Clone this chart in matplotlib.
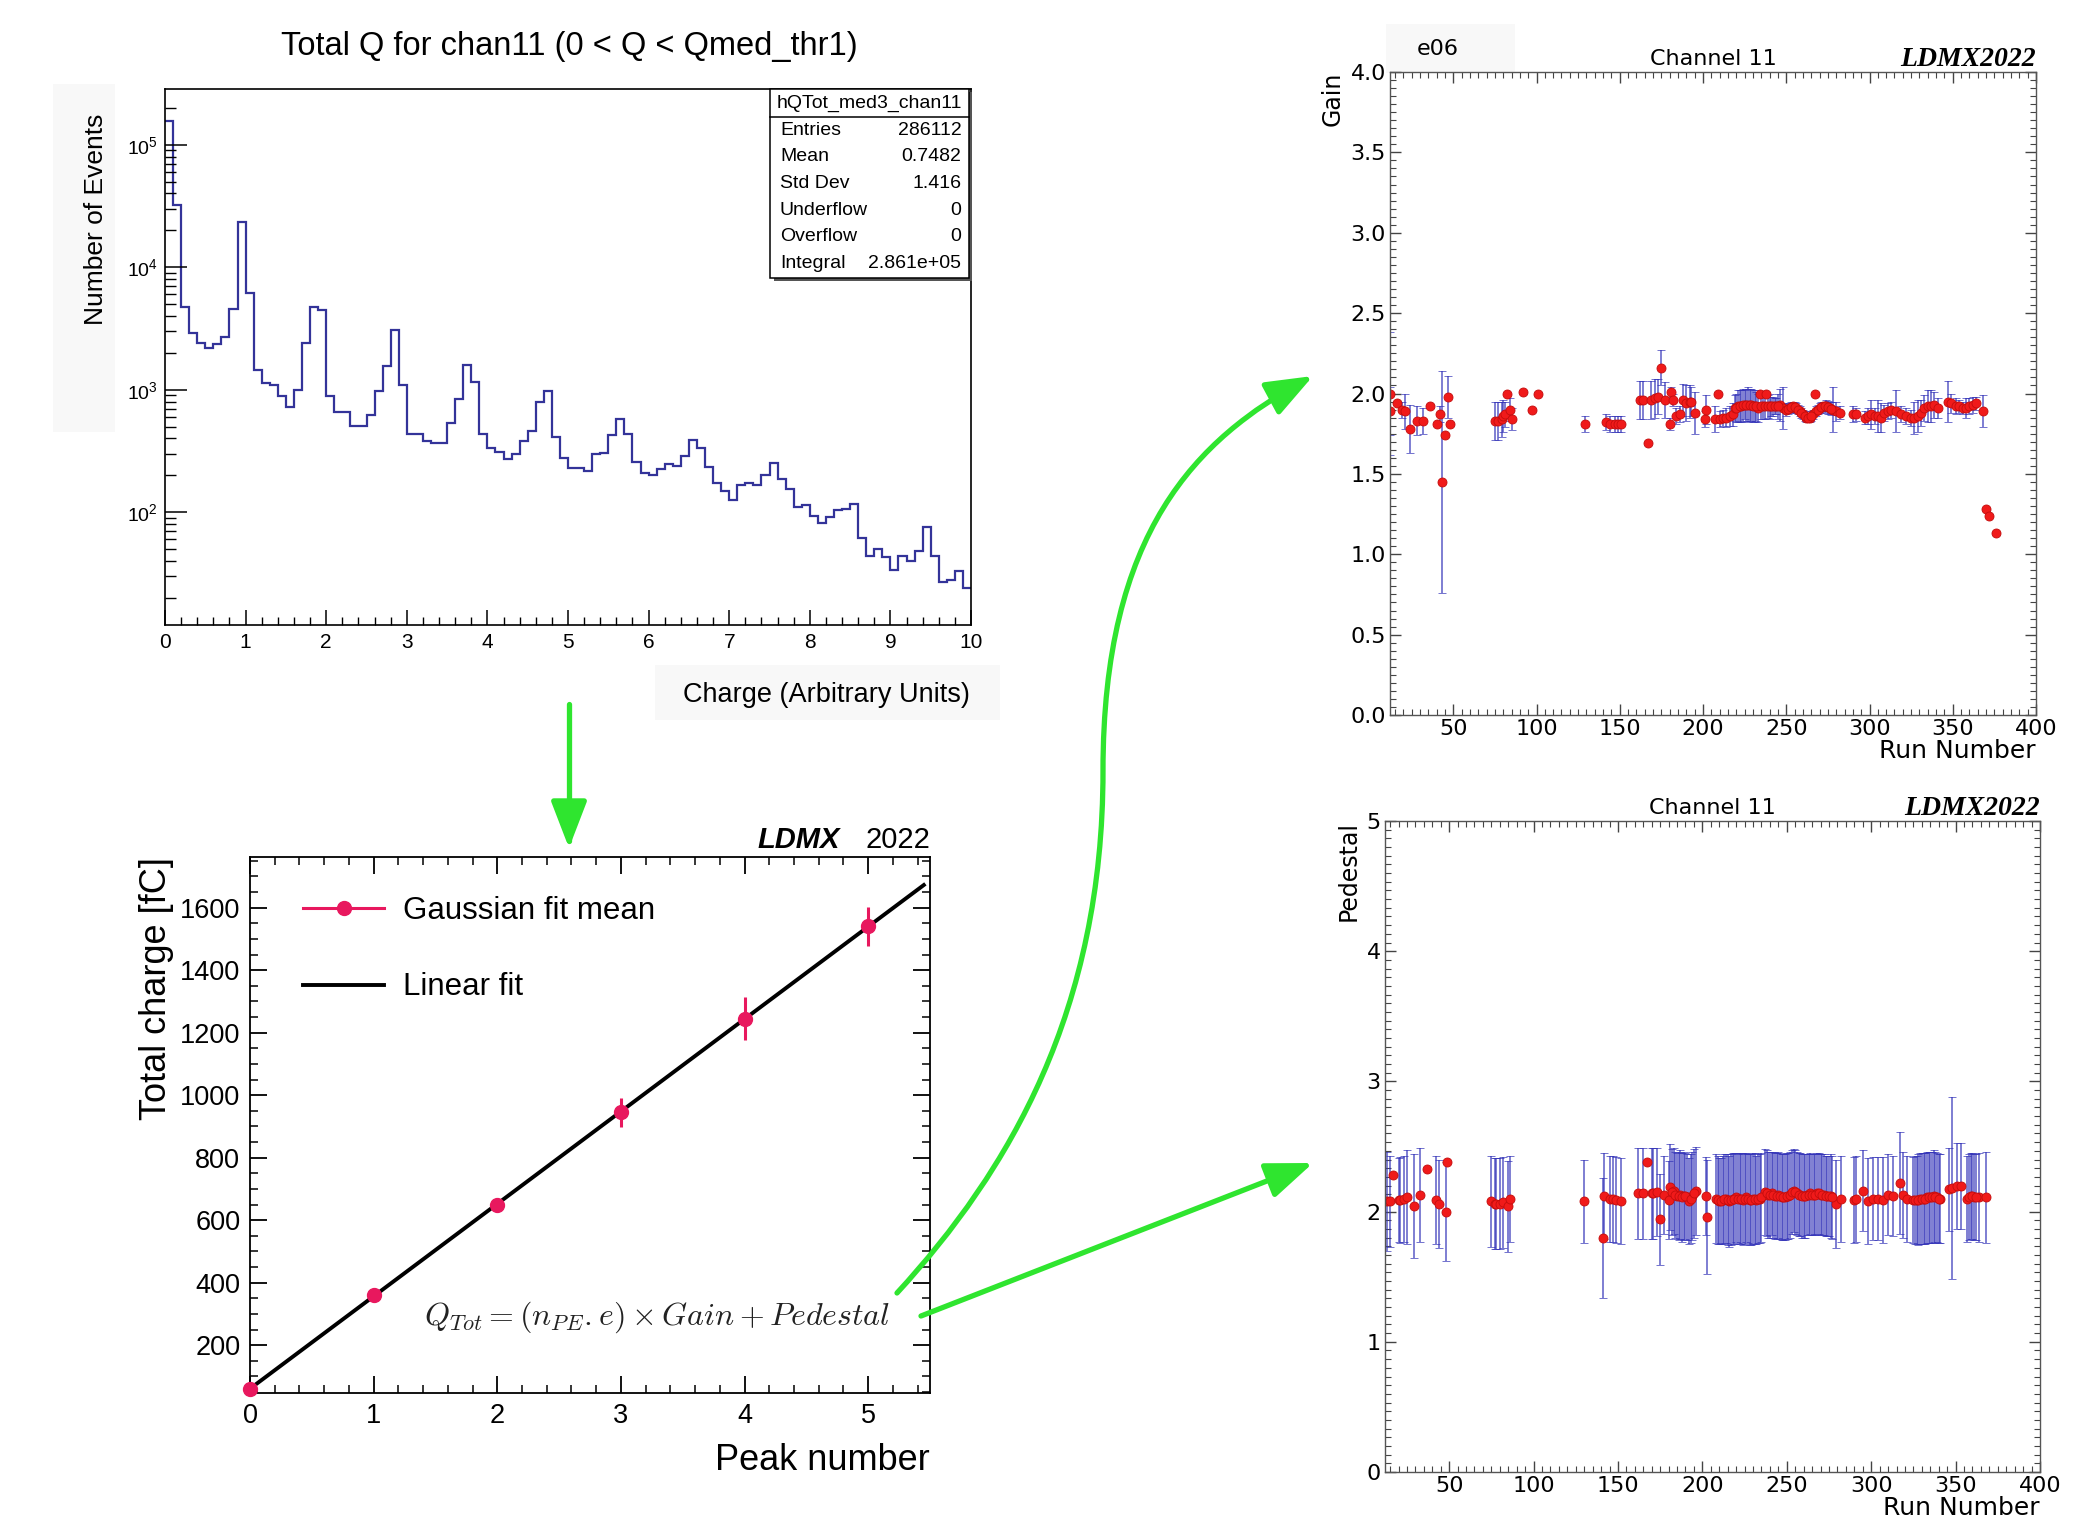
import numpy as np
import matplotlib
matplotlib.use("Agg")
import matplotlib.pyplot as plt
from matplotlib.patches import Rectangle, FancyArrowPatch
from matplotlib.path import Path
from matplotlib.lines import Line2D
from matplotlib.ticker import (MultipleLocator, AutoMinorLocator, LogLocator,
                               NullFormatter, FormatStrFormatter)

plt.rcParams["font.family"] = ["Liberation Sans", "DejaVu Sans"]
plt.rcParams["mathtext.fontset"] = "custom"
plt.rcParams["mathtext.rm"] = "Liberation Sans"
plt.rcParams["mathtext.it"] = "Liberation Sans:italic"
plt.rcParams["mathtext.bf"] = "Liberation Sans:bold"

W, H = 2084, 1520
GREEN = "#2fe52f"
PINK = "#e8185e"
HBLUE = "#333399"
RED = "#f01a1a"
EBLUE = (0.2, 0.2, 0.72, 0.8)

# ---- histogram of total charge, 100 bins on [0, 10]
hist_range = (0, 10)
hist_counts = [
    1.55e5, 3.25e4, 4700, 2900, 2400, 2200, 2350, 2700, 4600, 23600,
    6200, 1440, 1140, 1100, 890, 720, 1000, 2400, 4700, 4500,
    890, 660, 655, 505, 505, 620, 970, 1550, 3100, 1100,
    437, 437, 378, 370, 364, 535, 835, 1580, 1150, 437,
    333, 312, 270, 296, 378, 460, 790, 980, 410, 275,
    230, 230, 218, 297, 306, 424, 580, 437, 256, 210,
    203, 226, 248, 240, 290, 390, 333, 235, 172, 148,
    125, 167, 172, 166, 200, 250, 188, 154, 110, 115,
    93, 82, 92, 105, 106, 117, 62, 44, 50, 43,
    34, 44, 40, 48, 76, 44, 27, 28, 33, 24,
]
stats_name = "hQTot_med3_chan11"
stats_labels = ["Entries", "Mean", "Std Dev", "Underflow", "Overflow", "Integral"]
stats_values = ["286112", "0.7482", "1.416", "0", "0", "2.861e+05"]

# ---- gaussian fit means per photo-electron peak
peak_number = [0, 1, 2, 3, 4, 5]
peak_charge = [60, 360, 650, 945, 1245, 1540]
peak_err = [8, 12, 15, 47, 70, 62]

# ---- gain vs run number
gain_run = [12, 12, 16, 19, 21, 24, 28, 32, 36, 40, 42, 43, 45, 47, 48,
            75, 77, 79, 80, 81, 82, 84, 85, 92, 97, 101,
            129, 142, 144, 147, 149, 151,
            162, 164, 167, 169, 171, 173, 175, 177, 180, 181, 182, 184, 186,
            188, 190, 192, 193, 195, 201, 202,
            207, 209, 210, 212, 214, 216, 218, 219, 221, 223, 225, 227, 229,
            231, 233, 234, 236, 238, 240, 242, 244, 246, 248, 250, 252, 254,
            256, 258, 260, 262, 264, 266, 267, 268, 270, 272, 274, 276, 278,
            280, 282, 290, 292, 297, 299, 301, 303, 305, 307, 309, 311, 313,
            316, 319, 322, 325, 327, 329, 331, 333, 335, 337, 339, 341, 347,
            349, 352, 354, 356, 358, 360, 362, 364, 368, 370, 372, 376]
gain_val = [2.00, 1.89, 1.94, 1.90, 1.89, 1.78, 1.83, 1.83, 1.92, 1.81, 1.87, 1.45, 1.74, 1.98, 1.81,
            1.83, 1.83, 1.84, 1.86, 1.87, 2.00, 1.90, 1.84, 2.01, 1.90, 2.00,
            1.81, 1.82, 1.81, 1.81, 1.81, 1.81,
            1.96, 1.96, 1.69, 1.96, 1.97, 1.98, 2.16, 1.96, 1.81, 2.01, 1.96, 1.86, 1.87,
            1.96, 1.94, 1.95, 1.95, 1.88, 1.84, 1.90,
            1.84, 2.00, 1.84, 1.85, 1.85, 1.86, 1.87, 1.91, 1.92, 1.92, 1.93, 1.93, 1.93,
            1.92, 1.91, 2.00, 1.92, 2.00, 1.92, 1.92, 1.92, 1.93, 1.91, 1.90, 1.91, 1.92,
            1.91, 1.89, 1.87, 1.85, 1.85, 1.87, 2.00, 1.89, 1.91, 1.92, 1.92, 1.91, 1.90,
            1.89, 1.88, 1.87, 1.87, 1.85, 1.86, 1.87, 1.86, 1.86, 1.85, 1.88, 1.89, 1.90,
            1.89, 1.87, 1.86, 1.85, 1.85, 1.86, 1.88, 1.91, 1.92, 1.92, 1.93, 1.91, 1.95,
            1.94, 1.92, 1.92, 1.91, 1.91, 1.92, 1.93, 1.94, 1.89, 1.28, 1.24, 1.13]
gain_err = [0.38, 0.15, 0.01, 0.05, 0.11, 0.15, 0.09, 0.08, 0.01, 0.01, 0.05, 0.69, 0.01, 0.13, 0.01,
            0.12, 0.12, 0.11, 0.10, 0.08, 0.01, 0.07, 0.07, 0.01, 0.01, 0.01,
            0.05, 0.05, 0.05, 0.05, 0.05, 0.05,
            0.12, 0.12, 0.01, 0.12, 0.12, 0.11, 0.11, 0.11, 0.04, 0.03, 0.04, 0.05, 0.05,
            0.10, 0.11, 0.10, 0.09, 0.13, 0.05, 0.09,
            0.08, 0.01, 0.05, 0.05, 0.06, 0.06, 0.07, 0.08, 0.10, 0.10, 0.09, 0.11, 0.10,
            0.10, 0.09, 0.01, 0.08, 0.01, 0.08, 0.06, 0.05, 0.10, 0.13, 0.04, 0.03, 0.03,
            0.03, 0.03, 0.03, 0.03, 0.03, 0.03, 0.01, 0.03, 0.03, 0.03, 0.04, 0.04, 0.14,
            0.06, 0.04, 0.05, 0.04, 0.04, 0.05, 0.09, 0.05, 0.10, 0.09, 0.05, 0.05, 0.05,
            0.13, 0.05, 0.05, 0.05, 0.10, 0.10, 0.08, 0.08, 0.10, 0.10, 0.08, 0.06, 0.13,
            0.06, 0.05, 0.04, 0.04, 0.06, 0.05, 0.05, 0.04, 0.10, 0.01, 0.01, 0.01]
# runs in the densely sampled stretches, in between the ones above
gain_run_fill = [220, 222, 224, 226, 228, 230, 232, 235, 237, 239, 241, 243, 245,
                 251, 253, 255, 257, 259, 261, 263, 265, 269, 271, 273, 275, 277]
gain_val_fill = [1.91, 1.92, 1.93, 1.93, 1.93, 1.92, 1.92, 1.92, 1.92, 1.92, 1.92, 1.92, 1.92,
                 1.905, 1.915, 1.915, 1.90, 1.88, 1.86, 1.85, 1.86, 1.90, 1.915, 1.92, 1.915, 1.905]
gain_err_fill = [0.09, 0.10, 0.10, 0.10, 0.10, 0.10, 0.09, 0.08, 0.08, 0.07, 0.06, 0.05, 0.08,
                 0.03, 0.03, 0.03, 0.03, 0.03, 0.03, 0.03, 0.03, 0.03, 0.03, 0.03, 0.04, 0.04]

# ---- pedestal vs run number
ped_run = [13, 15, 17, 20, 21, 23, 25, 29, 33, 37, 42, 44, 48, 49,
           75, 77, 78, 80, 82, 85, 86,
           130, 141, 142, 145, 147, 149, 152,
           162, 165, 167, 170, 171, 173, 175, 177, 180, 181, 183, 185, 187, 189,
           191, 192, 194, 196, 202, 203,
           208, 210, 212, 214, 216, 218, 220, 222, 224, 226, 228, 230, 232, 234,
           237, 239, 241, 243, 245, 247, 249, 251, 254, 256, 258, 260, 262, 264,
           266, 268, 270, 272, 274, 276, 279, 282, 290, 291, 295, 298, 301, 304,
           307, 310, 313, 317, 319, 321, 325, 327, 329, 331, 333, 335, 337, 339,
           341, 346, 348, 351, 353, 357, 359, 361, 364, 368]
ped_val = [2.08, 2.08, 2.28, 2.09, 2.09, 2.10, 2.11, 2.04, 2.13, 2.33, 2.09, 2.06, 2.00, 2.38,
           2.08, 2.06, 2.06, 2.06, 2.07, 2.04, 2.10,
           2.08, 1.80, 2.12, 2.10, 2.10, 2.09, 2.08,
           2.14, 2.14, 2.38, 2.14, 2.14, 2.15, 1.94, 2.13, 2.09, 2.19, 2.16, 2.12, 2.13, 2.12,
           2.11, 2.08, 2.12, 2.16, 2.12, 1.96,
           2.10, 2.08, 2.09, 2.10, 2.08, 2.10, 2.11, 2.10, 2.09, 2.11, 2.09, 2.10, 2.09, 2.10,
           2.15, 2.13, 2.14, 2.12, 2.13, 2.11, 2.11, 2.12, 2.16, 2.14, 2.13, 2.12, 2.13, 2.14,
           2.13, 2.14, 2.13, 2.13, 2.12, 2.12, 2.06, 2.10, 2.09, 2.10, 2.16, 2.08, 2.10, 2.10,
           2.09, 2.13, 2.12, 2.22, 2.13, 2.10, 2.09, 2.09, 2.10, 2.10, 2.11, 2.11, 2.12, 2.11,
           2.10, 2.17, 2.18, 2.20, 2.20, 2.10, 2.12, 2.11, 2.11, 2.11]
ped_err = [0.38, 0.35, 0.01, 0.32, 0.33, 0.33, 0.36, 0.40, 0.36, 0.01, 0.34, 0.34, 0.38, 0.01,
           0.35, 0.35, 0.35, 0.35, 0.35, 0.35, 0.33,
           0.32, 0.46, 0.33, 0.33, 0.33, 0.33, 0.33,
           0.35, 0.35, 0.01, 0.35, 0.35, 0.34, 0.35, 0.30, 0.30, 0.33, 0.33, 0.33, 0.34, 0.34,
           0.33, 0.33, 0.34, 0.34, 0.30, 0.44,
           0.34, 0.33, 0.34, 0.34, 0.35, 0.35, 0.34, 0.35, 0.35, 0.34, 0.35, 0.35, 0.34, 0.34,
           0.33, 0.33, 0.32, 0.33, 0.33, 0.33, 0.33, 0.33, 0.32, 0.32, 0.32, 0.32, 0.31, 0.31,
           0.31, 0.31, 0.31, 0.31, 0.31, 0.32, 0.34, 0.33, 0.33, 0.33, 0.31, 0.33, 0.32, 0.32,
           0.33, 0.31, 0.31, 0.39, 0.33, 0.33, 0.33, 0.34, 0.35, 0.35, 0.35, 0.35, 0.35, 0.34,
           0.34, 0.32, 0.70, 0.33, 0.33, 0.33, 0.33, 0.33, 0.34, 0.35]
ped_run_fill = [182, 184, 186, 188, 190, 193, 195,
                209, 211, 213, 215, 217, 219, 221, 223, 225, 227, 229, 231, 233, 235,
                238, 240, 242, 244, 246, 248, 250, 252, 253, 255, 257, 259, 261, 263,
                265, 267, 269, 271, 273, 275, 277,
                326, 328, 330, 332, 334, 336, 338, 340, 358, 360, 362]
ped_val_fill = [2.15, 2.13, 2.12, 2.11, 2.12, 2.10, 2.14,
                2.09, 2.08, 2.10, 2.09, 2.09, 2.10, 2.10, 2.10, 2.10, 2.10, 2.09, 2.10, 2.10, 2.11,
                2.14, 2.13, 2.13, 2.12, 2.12, 2.11, 2.12, 2.13, 2.15, 2.15, 2.13, 2.12, 2.12, 2.13,
                2.13, 2.13, 2.14, 2.13, 2.12, 2.12, 2.11,
                2.09, 2.09, 2.10, 2.10, 2.11, 2.11, 2.11, 2.10, 2.11, 2.12, 2.11]
ped_err_fill = [0.33, 0.33, 0.34, 0.34, 0.33, 0.34, 0.34,
                0.34, 0.33, 0.34, 0.35, 0.35, 0.35, 0.34, 0.35, 0.35, 0.34, 0.35, 0.35, 0.34, 0.34,
                0.33, 0.33, 0.33, 0.33, 0.33, 0.33, 0.33, 0.33, 0.32, 0.32, 0.32, 0.32, 0.32, 0.31,
                0.31, 0.31, 0.31, 0.31, 0.31, 0.31, 0.32,
                0.34, 0.35, 0.35, 0.35, 0.35, 0.35, 0.35, 0.34, 0.33, 0.33, 0.33]


def fig_box(left, top, right, bottom):
    # pixel box (top-left origin) -> figure fraction rect
    return [left / W, 1 - bottom / H, (right - left) / W, (bottom - top) / H]


fig = plt.figure(figsize=(W / 100, H / 100), dpi=100)

# faint grey patches of the screenshot background
bg = fig.add_axes([0, 0, 1, 1], zorder=-10)
bg.set_xlim(0, W)
bg.set_ylim(H, 0)
bg.axis("off")
for x0, y0, x1, y1 in [(53, 84, 115, 432), (655, 665, 1000, 720), (1386, 24, 1515, 73)]:
    bg.add_patch(Rectangle((x0, y0), x1 - x0, y1 - y0, color="#f8f8f8", lw=0))

# ---------------- histogram (top left)
ax = fig.add_axes(fig_box(165, 89, 971, 625))
edges = np.linspace(hist_range[0], hist_range[1], len(hist_counts) + 1)
ax.stairs(hist_counts, edges, color=HBLUE, lw=1.6, baseline=None)
ax.set_yscale("log")
ax.set_xlim(*hist_range)
ax.set_ylim(12, 2.85e5)
ax.xaxis.set_major_locator(MultipleLocator(1))
ax.xaxis.set_minor_locator(MultipleLocator(0.2))
ax.yaxis.set_major_locator(LogLocator(base=10, numticks=10))
ax.yaxis.set_minor_locator(LogLocator(base=10, subs=np.arange(2, 10), numticks=20))
ax.yaxis.set_minor_formatter(NullFormatter())
ax.tick_params(which="both", direction="in", top=False, right=False)
ax.tick_params(axis="x", which="major", length=11, width=1.1, labelsize=15, pad=6)
ax.tick_params(axis="x", which="minor", length=5.5, width=1.0)
ax.tick_params(axis="y", which="major", length=16, width=1.1, labelsize=14, pad=5)
ax.tick_params(axis="y", which="minor", length=8, width=1.0)
for s in ax.spines.values():
    s.set_linewidth(1.2)

# stats box
bx0, by0, bx1, by1 = 0.751, 0.647, 0.9975, 1.0
ax.add_patch(Rectangle((bx0 + 0.004, by0 - 0.006), bx1 - bx0, by1 - by0, transform=ax.transAxes,
                       facecolor="#555555", edgecolor="none", zorder=4, clip_on=False))
ax.add_patch(Rectangle((bx0, by0), bx1 - bx0, by1 - by0, transform=ax.transAxes,
                       facecolor="white", edgecolor="black", lw=1.1, zorder=5, clip_on=False))
ax.plot([bx0, bx1], [0.948, 0.948], transform=ax.transAxes, color="black", lw=1.1, zorder=6)
ax.text((bx0 + bx1) / 2, 0.974, stats_name, transform=ax.transAxes, ha="center", va="center",
        fontsize=14, zorder=7)
for i, (lab, val) in enumerate(zip(stats_labels, stats_values)):
    yy = 0.923 - i * 0.0496
    ax.text(0.763, yy, lab, transform=ax.transAxes, ha="left", va="center", fontsize=14, zorder=7)
    ax.text(0.988, yy, val, transform=ax.transAxes, ha="right", va="center", fontsize=14, zorder=7)

fig.text(569 / W, 1 - 46 / H, "Total Q for chan11 (0 < Q < Qmed_thr1)", ha="center", va="center",
         fontsize=23.5)
fig.text(96 / W, 1 - 219 / H, "Number of Events", rotation=90, ha="center", va="center", fontsize=19)
fig.text(970 / W, 1 - 695 / H, "Charge (Arbitrary Units)", ha="right", va="center", fontsize=19.5)

# ---------------- linear fit (bottom left)
ax2 = fig.add_axes(fig_box(250, 857, 930, 1393))
slope, intercept = np.polyfit(peak_number, peak_charge, 1)
xfit = np.linspace(0, 5.45, 2)
ax2.plot(xfit, slope * xfit + intercept, color="black", lw=2.8, zorder=2)
ax2.errorbar(peak_number, peak_charge, yerr=peak_err, fmt="o", color=PINK, ms=10,
             elinewidth=2.2, capsize=0, zorder=3, clip_on=False)
ax2.set_xlim(0, 5.5)
ax2.set_ylim(47, 1762)
ax2.xaxis.set_major_locator(MultipleLocator(1))
ax2.xaxis.set_minor_locator(MultipleLocator(0.2))
ax2.yaxis.set_major_locator(MultipleLocator(200))
ax2.yaxis.set_minor_locator(MultipleLocator(50))
ax2.tick_params(which="both", direction="in", top=True, right=True, labelsize=19.5)
ax2.tick_params(which="major", length=12, width=1.3, pad=7)
ax2.tick_params(which="minor", length=6, width=1.1)
for s in ax2.spines.values():
    s.set_linewidth(1.3)
ax2.set_ylabel("Total charge [fC]", loc="top", fontsize=26)
ax2.set_xlabel("Peak number", loc="right", fontsize=26, labelpad=10)
handles = [Line2D([], [], color=PINK, marker="o", ms=10, lw=2.2),
           Line2D([], [], color="black", lw=2.8)]
ax2.legend(handles, ["Gaussian fit mean", "Linear fit"], loc="upper left",
           bbox_to_anchor=(0.078, 0.928), borderaxespad=0, borderpad=0, frameon=False,
           fontsize=22.5, handlelength=2.6, labelspacing=1.5, handletextpad=0.6)
ax2.text(0.868, 1.006, "LDMX", transform=ax2.transAxes, ha="right", va="bottom",
         fontsize=21, weight="bold", style="italic")
ax2.text(1.0, 1.006, "2022", transform=ax2.transAxes, ha="right", va="bottom", fontsize=21)
ax2.text(5.18, 290, r"$Q_{Tot} = (n_{PE}.e) \times Gain + Pedestal$", ha="right", va="center",
         fontsize=23, math_fontfamily="cm", color="#222222")


# ---------------- run-by-run panels (right)
def run_panel(axr, runs, vals, errs, ymax, ymajor, yminor_n, yfmt, ylabel):
    axr.errorbar(runs, vals, yerr=errs, fmt="o", ms=6.5, mfc=RED, mec="#c40d0d", mew=0.6,
                 ecolor=EBLUE, elinewidth=1.1, capsize=3, capthick=1.1)
    axr.set_xlim(12, 400)
    axr.set_ylim(0, ymax)
    axr.xaxis.set_major_locator(MultipleLocator(50))
    axr.xaxis.set_minor_locator(MultipleLocator(5))
    axr.yaxis.set_major_locator(MultipleLocator(ymajor))
    axr.yaxis.set_minor_locator(AutoMinorLocator(yminor_n))
    axr.yaxis.set_major_formatter(FormatStrFormatter(yfmt))
    axr.xaxis.set_major_formatter(FormatStrFormatter("%d"))
    axr.tick_params(which="both", direction="in", top=True, right=True, labelsize=16,
                    labelfontfamily="DejaVu Sans", pad=3, color="#444444")
    axr.tick_params(which="major", length=8, width=1.0)
    axr.tick_params(which="minor", length=4, width=0.8)
    for s in axr.spines.values():
        s.set_linewidth(1.0)
        s.set_color("#555555")
    axr.set_ylabel(ylabel, loc="top", fontsize=17, family="DejaVu Sans", labelpad=4)
    axr.set_xlabel("Run Number", loc="right", fontsize=18, family="DejaVu Sans", labelpad=0)
    axr.text(0.5, 1.004, "Channel 11", transform=axr.transAxes, ha="center", va="bottom",
             fontsize=16, family="DejaVu Sans")
    axr.text(1.0, 1.0, "LDMX2022", transform=axr.transAxes, ha="right", va="bottom",
             fontsize=20, family="Liberation Serif", weight="bold", style="italic")


ax3 = fig.add_axes(fig_box(1390, 72, 2036, 715))
run_panel(ax3, gain_run + gain_run_fill, gain_val + gain_val_fill, gain_err + gain_err_fill,
          4.0, 0.5, 10, "%.1f", "Gain")
fig.text(1438 / W, 1 - 49 / H, "e06", ha="center", va="center", fontsize=16, family="DejaVu Sans")

ax4 = fig.add_axes(fig_box(1385, 821, 2040, 1472))
run_panel(ax4, ped_run + ped_run_fill, ped_val + ped_val_fill, ped_err + ped_err_fill,
          5, 1, 15, "%d", "Pedestal")

# ---------------- green arrows
ov = fig.add_axes([0, 0, 1, 1], zorder=10)
ov.set_xlim(0, W)
ov.set_ylim(H, 0)
ov.axis("off")
ov.patch.set_visible(False)
arrow_style = "-|>,head_length=1.3,head_width=0.5"


def green_arrow(verts, codes):
    ov.add_patch(FancyArrowPatch(path=Path(verts, codes), arrowstyle=arrow_style,
                                 mutation_scale=22, lw=3.8, color=GREEN))


green_arrow([(569, 704), (569, 848)], [Path.MOVETO, Path.LINETO])
green_arrow([(897, 1293), (1010, 1170), (1103, 1010), (1103, 771),
             (1103, 532), (1196, 439), (1313, 376)],
            [Path.MOVETO] + [Path.CURVE4] * 6)
green_arrow([(921, 1316), (1313, 1163)], [Path.MOVETO, Path.LINETO])

fig.savefig("out.png", dpi=100)
